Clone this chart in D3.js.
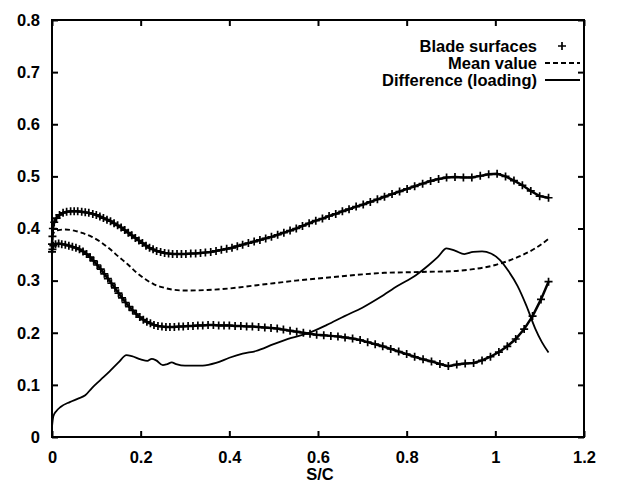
<!DOCTYPE html>
<html><head><meta charset="utf-8">
<script src="https://cdn.jsdelivr.net/npm/d3@7"></script>
<style>body{margin:0;background:#fff}text{font-family:"Liberation Sans",Arial,sans-serif;font-weight:bold;font-size:16.5px;fill:#000}</style>
</head><body><svg id="c" width="624" height="485"></svg>
<script>
const xTicks=[0,0.2,0.4,0.6,0.8,1,1.2];
const xTickLabels=["0","0.2","0.4","0.6","0.8","1","1.2"];
const yTicks=[0,0.1,0.2,0.3,0.4,0.5,0.6,0.7,0.8];
const yTickLabels=["0","0.1","0.2","0.3","0.4","0.5","0.6","0.7","0.8"];
const legendLabels=["Blade surfaces","Mean value","Difference (loading)"];
const xLabel="S/C";

const upperX=[0.000,0.000,0.001,0.002,0.005,0.01,0.017,0.025,0.033,0.042,0.05,0.058,0.067,0.075,0.083,0.092,0.1,0.108,0.116,0.124,0.132,0.14,0.148,0.156,0.164,0.172,0.18,0.188,0.196,0.204,0.212,0.22,0.228,0.236,0.245,0.254,0.263,0.272,0.282,0.292,0.302,0.313,0.324,0.335,0.346,0.358,0.37,0.382,0.394,0.406,0.418,0.43,0.443,0.456,0.469,0.482,0.495,0.509,0.523,0.537,0.551,0.565,0.58,0.595,0.61,0.625,0.64,0.655,0.67,0.686,0.702,0.718,0.734,0.75,0.767,0.784,0.801,0.818,0.836,0.854,0.872,0.89,0.909,0.928,0.947,0.966,0.985,1.004,1.023,1.042,1.061,1.08,1.1,1.12];
const upperY=[0.355,0.37,0.385,0.40,0.412,0.42,0.426,0.43,0.432,0.433,0.433,0.433,0.432,0.431,0.43,0.428,0.426,0.423,0.42,0.417,0.414,0.41,0.406,0.402,0.397,0.392,0.387,0.382,0.377,0.372,0.367,0.363,0.36,0.357,0.355,0.353,0.352,0.351,0.351,0.351,0.351,0.352,0.352,0.353,0.354,0.355,0.357,0.359,0.361,0.363,0.366,0.369,0.372,0.375,0.378,0.381,0.384,0.388,0.392,0.396,0.4,0.405,0.41,0.415,0.419,0.424,0.428,0.433,0.437,0.442,0.446,0.451,0.456,0.461,0.466,0.471,0.476,0.481,0.486,0.491,0.495,0.498,0.499,0.498,0.498,0.501,0.504,0.505,0.5,0.492,0.483,0.472,0.462,0.459];

const lowerX=[0.001,0.003,0.008,0.015,0.022,0.03,0.038,0.046,0.054,0.062,0.07,0.078,0.086,0.094,0.102,0.11,0.118,0.126,0.134,0.142,0.15,0.158,0.166,0.174,0.182,0.19,0.198,0.206,0.214,0.222,0.23,0.239,0.248,0.257,0.266,0.276,0.286,0.296,0.307,0.318,0.329,0.34,0.352,0.364,0.376,0.388,0.4,0.413,0.426,0.439,0.452,0.466,0.48,0.494,0.508,0.522,0.537,0.552,0.567,0.582,0.597,0.613,0.629,0.645,0.661,0.678,0.695,0.712,0.729,0.746,0.764,0.782,0.8,0.818,0.837,0.856,0.875,0.894,0.913,0.932,0.951,0.97,0.989,1.008,1.027,1.046,1.065,1.084,1.103,1.12];
const lowerY=[0.36,0.367,0.37,0.371,0.37,0.369,0.367,0.365,0.363,0.36,0.356,0.351,0.345,0.338,0.33,0.322,0.313,0.304,0.295,0.286,0.276,0.267,0.258,0.25,0.243,0.236,0.23,0.225,0.221,0.218,0.215,0.213,0.212,0.211,0.211,0.211,0.212,0.212,0.213,0.213,0.214,0.214,0.215,0.215,0.214,0.214,0.214,0.213,0.213,0.212,0.212,0.211,0.21,0.209,0.208,0.206,0.204,0.202,0.2,0.198,0.196,0.195,0.194,0.193,0.191,0.189,0.186,0.182,0.178,0.174,0.169,0.164,0.159,0.154,0.149,0.145,0.14,0.136,0.139,0.141,0.142,0.147,0.154,0.163,0.174,0.188,0.207,0.232,0.264,0.298];

const meanX=[0,0.005,0.015,0.03,0.05,0.07,0.09,0.11,0.13,0.15,0.17,0.19,0.21,0.23,0.25,0.27,0.3,0.35,0.4,0.45,0.5,0.55,0.6,0.65,0.7,0.75,0.8,0.85,0.9,0.95,1.0,1.05,1.09,1.12];
const meanY=[0.385,0.393,0.397,0.398,0.396,0.391,0.384,0.374,0.361,0.346,0.332,0.316,0.303,0.293,0.287,0.283,0.281,0.282,0.285,0.29,0.295,0.3,0.304,0.308,0.312,0.315,0.316,0.317,0.318,0.322,0.33,0.345,0.362,0.38];

const diffX=[0,0.003,0.01,0.02,0.04,0.06,0.075,0.09,0.11,0.13,0.15,0.168,0.18,0.2,0.215,0.225,0.235,0.25,0.26,0.27,0.28,0.3,0.34,0.37,0.4,0.43,0.46,0.5,0.54,0.58,0.62,0.66,0.7,0.74,0.78,0.82,0.85,0.87,0.89,0.91,0.93,0.95,0.97,0.99,1.01,1.03,1.05,1.07,1.09,1.105,1.12];
const diffY=[0.02,0.04,0.05,0.058,0.067,0.074,0.08,0.094,0.11,0.126,0.143,0.157,0.155,0.149,0.146,0.15,0.147,0.138,0.14,0.143,0.14,0.137,0.137,0.142,0.152,0.16,0.165,0.178,0.19,0.2,0.215,0.232,0.248,0.268,0.29,0.31,0.33,0.345,0.362,0.357,0.351,0.355,0.356,0.352,0.34,0.318,0.29,0.252,0.208,0.182,0.162];

const svg=d3.select("#c");
const L=52,R=584,T=20,B=437;
const x=d3.scaleLinear().domain([0,1.2]).range([L,R]);
const y=d3.scaleLinear().domain([0,0.8]).range([B,T]);
const g=svg.append("g");

const tk=6;
g.append("g").attr("transform",`translate(0,${B})`).call(d3.axisBottom(x).tickValues(xTicks).tickSize(-tk).tickPadding(14).tickFormat((d,i)=>xTickLabels[i]));
g.append("g").attr("transform",`translate(0,${T})`).call(d3.axisTop(x).tickValues(xTicks).tickSize(-tk).tickFormat(""));
g.append("g").attr("transform",`translate(${L},0)`).call(d3.axisLeft(y).tickValues(yTicks).tickSize(-tk).tickPadding(12).tickFormat((d,i)=>yTickLabels[i]));
g.append("g").attr("transform",`translate(${R},0)`).call(d3.axisRight(y).tickValues(yTicks).tickSize(-tk).tickFormat(""));
g.selectAll(".domain").remove();
g.selectAll(".tick line").attr("stroke","#000").attr("stroke-width",2);
g.selectAll(".tick text").style("font-size","16.5px").style("font-weight","bold").attr("fill","#000");
g.append("rect").attr("x",L).attr("y",T).attr("width",R-L).attr("height",B-T).attr("fill","none").attr("stroke","#000").attr("stroke-width",2);

svg.append("text").attr("x",(L+R)/2+2).attr("y",480).attr("text-anchor","middle").text(xLabel);

const line=d3.line().x(d=>x(d[0])).y(d=>y(d[1])).curve(d3.curveMonotoneX);
const lineL=d3.line().x(d=>x(d[0])).y(d=>y(d[1]));
const zip=(a,b)=>a.map((v,i)=>[v,b[i]]);
const upper=zip(upperX,upperY), lower=zip(lowerX,lowerY), mean=zip(meanX,meanY), diff=zip(diffX,diffY);

svg.append("path").attr("d",line(mean)).attr("fill","none").attr("stroke","#000").attr("stroke-width",1.9).attr("stroke-dasharray","5,3");
svg.append("path").attr("d",line(diff)).attr("fill","none").attr("stroke","#000").attr("stroke-width",1.8);
[upper,lower].forEach(s=>{
  svg.append("path").attr("d",lineL(s)).attr("fill","none").attr("stroke","#000").attr("stroke-width",2.5);
});
const pm=4;
function drawPlus(sel,px,py){
  sel.append("path").attr("d",`M${px-pm},${py}H${px+pm}M${px},${py-pm}V${py+pm}`).attr("stroke","#000").attr("stroke-width",1.7).attr("fill","none");
}
const pts=svg.append("g");
upper.concat(lower).forEach(d=>drawPlus(pts,x(d[0]),y(d[1])));

const lx=537, sx0=545, sx1=580, ly=[46,63,80];
legendLabels.forEach((t,i)=>{
  svg.append("text").attr("x",lx).attr("y",ly[i]).attr("dy","0.35em").attr("text-anchor","end").text(t);
});
drawPlus(svg,562,ly[0]);
svg.append("line").attr("x1",sx0).attr("x2",sx1).attr("y1",ly[1]).attr("y2",ly[1]).attr("stroke","#000").attr("stroke-width",1.9).attr("stroke-dasharray","5,3");
svg.append("line").attr("x1",sx0).attr("x2",sx1).attr("y1",ly[2]).attr("y2",ly[2]).attr("stroke","#000").attr("stroke-width",1.8);
</script></body></html>
